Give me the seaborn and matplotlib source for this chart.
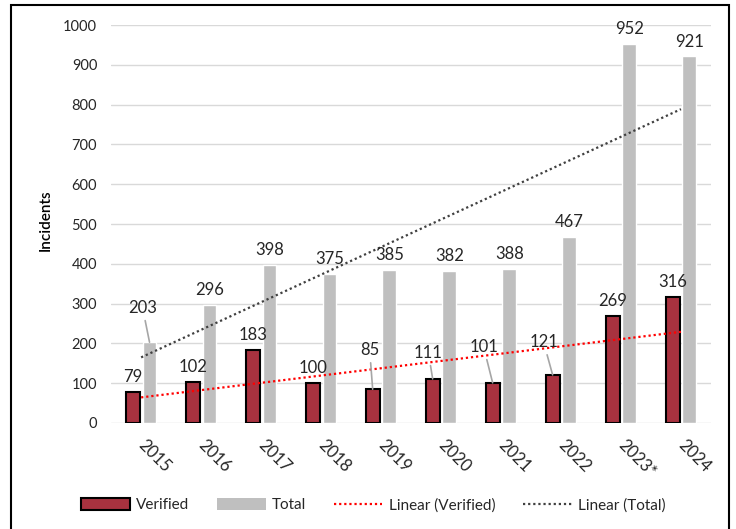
import numpy as np
import pandas as pd
import matplotlib
matplotlib.use("Agg")
import matplotlib.pyplot as plt
from matplotlib.patches import Patch, Rectangle
from matplotlib.lines import Line2D
import seaborn as sns

years = ["2015", "2016", "2017", "2018", "2019", "2020", "2021", "2022", "2023*", "2024"]
verified = [79, 102, 183, 100, 85, 111, 101, 121, 269, 316]
total = [203, 296, 398, 375, 385, 382, 388, 467, 952, 921]

red = "#A8323F"
grey = "#BFBFBF"
txt = "#262626"

# labels that Excel pushed away from the bar, with leader lines: (series, index) -> (x shift, label y)
moved_labels = {
    ("Total", 0): (-0.115, 289),
    ("Verified", 4): (-0.05, 183),
    ("Verified", 5): (-0.07, 176),
    ("Verified", 6): (-0.15, 191),
    ("Verified", 7): (-0.15, 203),
}

df = pd.DataFrame({
    "year": years * 2,
    "count": verified + total,
    "series": ["Verified"] * len(years) + ["Total"] * len(years),
})

sns.set_style("white")
plt.rcParams["font.family"] = ["Lato", "DejaVu Sans"]

fig = plt.figure(figsize=(7.36, 5.29), dpi=100)
ax = fig.add_axes([0.151, 0.2004, 0.815, 0.7523])

sns.barplot(data=df, x="year", y="count", hue="series", palette={"Verified": red, "Total": grey},
            width=0.56, gap=0.17, ax=ax, legend=False, saturation=1)

for p in ax.containers[0].patches:
    p.set_edgecolor("black")
    p.set_linewidth(1.5)

# data labels
for ci, (name, vals) in enumerate([("Verified", verified), ("Total", total)]):
    for i, p in enumerate(ax.containers[ci].patches):
        xc = p.get_x() + p.get_width() / 2
        top = p.get_height()
        if (name, i) in moved_labels:
            dx, ly = moved_labels[(name, i)]
            ax.annotate(str(vals[i]), xy=(xc, top), xytext=(xc + dx, ly), textcoords="data",
                        ha="center", va="center", fontsize=12, color=txt,
                        arrowprops=dict(arrowstyle="-", color="#A6A6A6", lw=1.2,
                                        shrinkA=1, shrinkB=0))
        else:
            ax.annotate(str(vals[i]), xy=(xc, top), xytext=(0, 5), textcoords="offset points",
                        ha="center", va="bottom", fontsize=12, color=txt)

# linear trendlines
xs = np.arange(len(years))
for vals, col in [(verified, "#FF0000"), (total, "#404040")]:
    k, b = np.polyfit(xs + 1, vals, 1)
    ax.plot(xs, k * (xs + 1) + b, color=col, lw=1.6, linestyle=(0, (1, 1.3)))

ax.set_xlim(-0.5, len(years) - 0.5)
ax.set_ylim(0, 1000)
ax.set_yticks(range(0, 1001, 100))
ax.yaxis.grid(True, color="#D9D9D9", lw=1)
ax.set_axisbelow(True)
for s in ax.spines.values():
    s.set_visible(False)

ax.tick_params(axis="y", length=0, pad=10, labelsize=10.5, labelcolor=txt)
ax.tick_params(axis="x", length=0, pad=14, labelsize=12, labelcolor=txt)
for lab in ax.get_xticklabels():
    lab.set_rotation(-45)
    lab.set_ha("left")
    lab.set_va("center")
    lab.set_rotation_mode("anchor")

ax.set_xlabel("")
ax.set_ylabel("Incidents", fontsize=11, color="black", fontweight="semibold")
ax.yaxis.set_label_coords(-0.097, 0.51)

handles = [
    Patch(facecolor=red, edgecolor="black", lw=1.5, label="Verified"),
    Patch(facecolor=grey, edgecolor="none", label="Total"),
    Line2D([], [], color="#FF0000", lw=1.6, linestyle=(0, (1, 1.3)), label="Linear (Verified)"),
    Line2D([], [], color="#404040", lw=1.6, linestyle=(0, (1, 1.3)), label="Linear (Total)"),
]
fig.legend(handles=handles, loc="center", bbox_to_anchor=(0.507, 0.045), ncol=4, frameon=False,
           fontsize=11, handlelength=3.2, handleheight=0.8, handletextpad=0.4, columnspacing=1.8,
           labelcolor=txt)

# outer chart frame
fig.patches.append(Rectangle((0.0149, -0.02), 0.975, 1.0105, transform=fig.transFigure,
                             fill=False, edgecolor="black", lw=1.5, clip_on=False))

fig.savefig("out.png", dpi=100)
